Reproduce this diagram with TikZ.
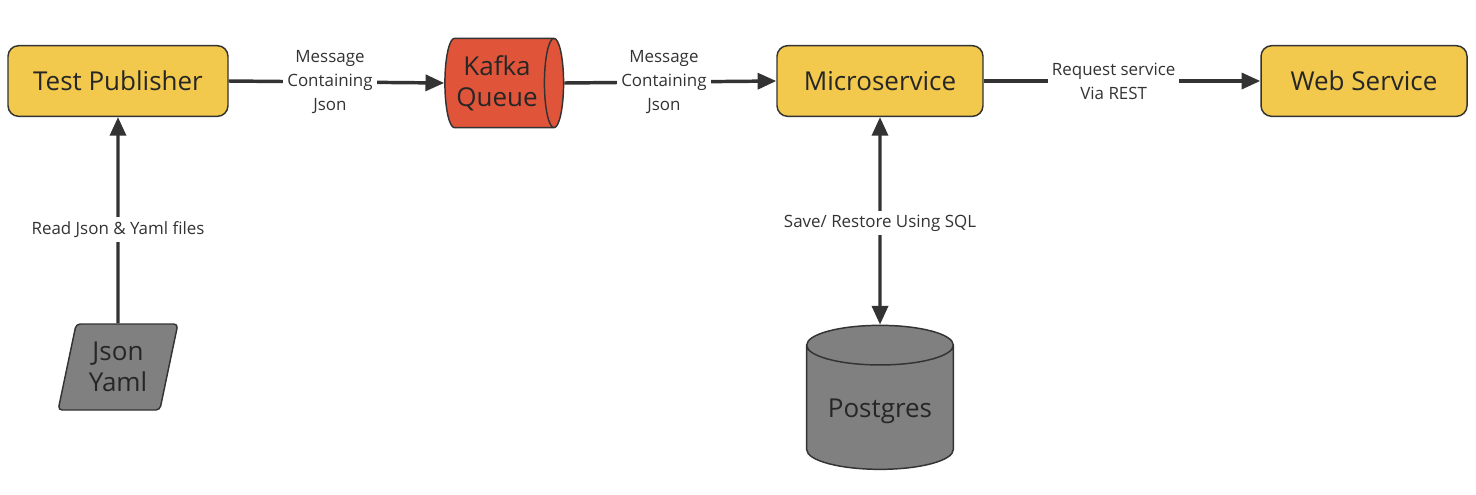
\documentclass[tikz,border=0pt]{standalone}
\usepackage{fontspec}
\setmainfont{Open Sans}
\usetikzlibrary{arrows.meta,positioning,shapes.geometric}
\definecolor{svcYellow}{HTML}{F2C94C}
\definecolor{kafkaRed}{HTML}{E0553A}
\definecolor{dbGray}{HTML}{808080}
\definecolor{lineGray}{HTML}{333333}
\tikzset{
  svc/.style={draw=lineGray, line width=1.1pt, fill=svcYellow, rounded corners=8pt,
    minimum width=165pt, minimum height=53pt, font=\fontsize{19.5}{23}\selectfont, text=black!85},
  queue/.style={cylinder, draw=lineGray, line width=1.1pt, fill=kafkaRed, aspect=0.3,
    minimum width=67pt, minimum height=89pt, align=center, font=\fontsize{19.5}{23}\selectfont, text=black!85},
  db/.style={cylinder, shape border rotate=90, draw=lineGray, line width=1.1pt, fill=dbGray, aspect=0.35,
    minimum width=110pt, minimum height=108pt, font=\fontsize{19.5}{23}\selectfont, text=black!85},
  files/.style={trapezium, trapezium left angle=76, trapezium right angle=104, trapezium stretches=true,
    draw=lineGray, line width=1.1pt, fill=dbGray, rounded corners=3pt, minimum width=90pt, minimum height=64.5pt,
    align=center, font=\fontsize{19.5}{23}\selectfont, text=black!85},
  msg/.style={fill=white, align=center, text=lineGray, inner sep=3pt, font=\fontsize{12.7}{18}\selectfont},
  link/.style={draw=lineGray, line width=2.6pt, -{Triangle[length=14pt,width=12pt]}}
}

\begin{document}
\begin{tikzpicture}[x=0.75pt, y=-0.75pt]
\useasboundingbox (0,0) rectangle (1476,494);

%% top row
\node[svc] (Publisher) at (118,81) {Test Publisher};
\node[queue] (Kafka) at (497,83) {Kafka\\Queue};
\node[svc, minimum width=154.5pt] (Micro) at (880,81) {Microservice};
\node[svc, minimum width=154.5pt] (Web) at (1364,81) {Web Service};

%% inputs and storage
\node[files] (Files) at (118,367) {Json\\Yaml};
\node[db] (Postgres) at (880,411) {\raisebox{-5pt}{Postgres}};

%% connectors
\draw[link] (Publisher.east) -- (Kafka.west) node[msg, pos=.47] {Message\\Containing\\Json};
\draw[link] (Kafka.east) -- (Micro.west) node[msg, pos=.47] {Message\\Containing\\Json};
\draw[link] (Micro.east) -- (Web.west) node[msg, pos=.47] {Request service\\Via REST};
\draw[link] (Files.north) -- (Publisher.south) node[msg, pos=.455] {Read Json \& Yaml files};
\draw[link, {Triangle[length=14pt,width=12pt]}-{Triangle[length=14pt,width=12pt]}] (Micro.south) -- (Postgres.north) node[msg, pos=.51] {Save/ Restore Using SQL};

\end{tikzpicture}
\end{document}
